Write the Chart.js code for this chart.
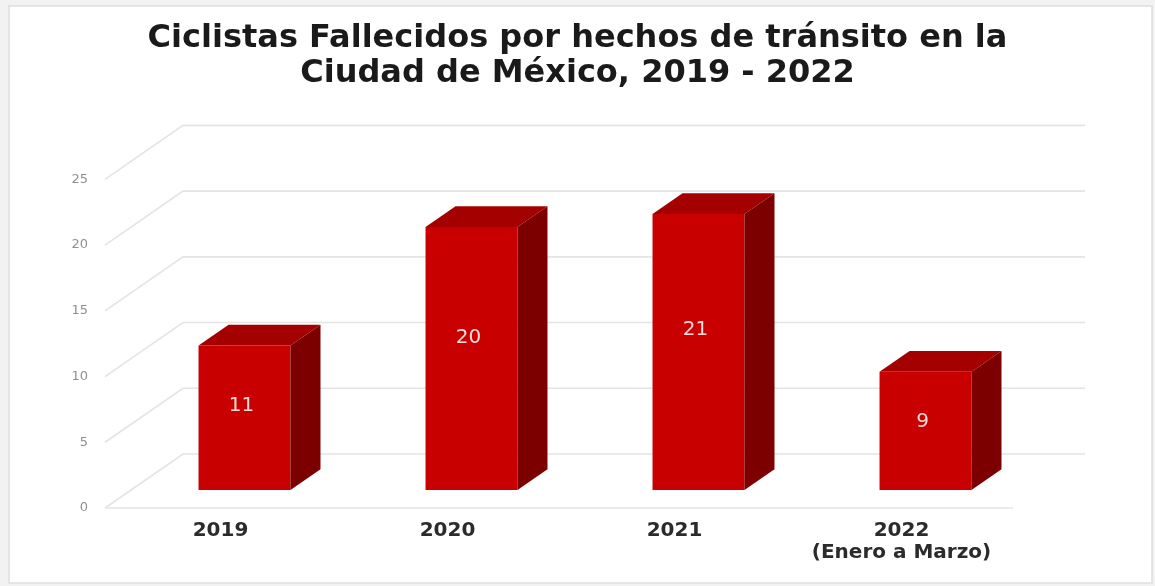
<!DOCTYPE html>
<html>
<head>
<meta charset="utf-8">
<script src="https://cdn.jsdelivr.net/npm/chart.js@4"></script>
<style>
  html, body { margin: 0; padding: 0; background: #fff; }
  canvas { display: block; }
</style>
</head>
<body>
<canvas id="deathsChart" width="1155" height="586"></canvas>
<script>
// ================= DATA =================
const years = [['2019'], ['2020'], ['2021'], ['2022', '(Enero a Marzo)']];
const deaths = [11, 20, 21, 9];
const titleLines = ['Ciclistas Fallecidos por hechos de tránsito en la', 'Ciudad de México, 2019 - 2022'];
const yTicks = [0, 5, 10, 15, 20, 25];

// 3D look: depth vector in px (bar plane -> back wall)
const DEPTH = { dx: 78, dy: -54 };
const BAR_DEPTH = 0.385;   // fraction of DEPTH for each bar box
const FRONT_T = -1 / 3;    // floor front edge, in front of the bars
const BACK_T = 2 / 3;      // back wall

// --- Frame behind the chart ---
const framePlugin = {
    id: 'frame',
    beforeDraw(chart) {
        const ctx = chart.ctx;
        ctx.save();
        ctx.fillStyle = '#f2f2f2';
        ctx.fillRect(0, 0, chart.width, chart.height);
        ctx.fillStyle = '#ffffff';
        ctx.fillRect(9, 6, chart.width - 12, chart.height - 9);
        ctx.strokeStyle = '#dedede';
        ctx.lineWidth = 1.5;
        ctx.strokeRect(9, 6, chart.width - 12, chart.height - 9);
        ctx.restore();
    }
};

// --- Gridlines drawn as floor + back wall ---
const gridPlugin = {
    id: 'grid3d',
    beforeDatasetsDraw(chart) {
        const { ctx, chartArea, scales: { y } } = chart;
        const fx = DEPTH.dx * FRONT_T, fy = DEPTH.dy * FRONT_T;
        const bx = DEPTH.dx * BACK_T, by = DEPTH.dy * BACK_T;
        ctx.save();
        ctx.strokeStyle = '#e4e4e4';
        ctx.lineWidth = 1.6;
        yTicks.forEach(v => {
            const py = y.getPixelForValue(v);
            ctx.beginPath();
            ctx.moveTo(chartArea.left + fx, py + fy);
            ctx.lineTo(chartArea.left + bx, py + by);
            ctx.lineTo(chartArea.right + bx - 6, py + by);
            ctx.stroke();
        });
        // front edge of the floor
        const p0 = y.getPixelForValue(0);
        ctx.beginPath();
        ctx.moveTo(chartArea.left + fx, p0 + fy);
        ctx.lineTo(chartArea.right + fx, p0 + fy);
        ctx.stroke();
        ctx.restore();
    }
};

// --- Top/side faces and value labels on the bars ---
const boxPlugin = {
    id: 'box3d',
    afterDatasetsDraw(chart) {
        const ctx = chart.ctx;
        const dx = DEPTH.dx * BAR_DEPTH, dy = DEPTH.dy * BAR_DEPTH;
        const meta = chart.getDatasetMeta(0);
        ctx.save();
        meta.data.forEach((bar, i) => {
            const { x, y, base, width } = bar.getProps(['x', 'y', 'base', 'width'], true);
            const l = x - width / 2, r = x + width / 2;
            // top face
            ctx.fillStyle = '#a40000';
            ctx.beginPath();
            ctx.moveTo(l, y);
            ctx.lineTo(l + dx, y + dy);
            ctx.lineTo(r + dx, y + dy);
            ctx.lineTo(r, y);
            ctx.closePath();
            ctx.fill();
            // side face
            ctx.fillStyle = '#7c0000';
            ctx.beginPath();
            ctx.moveTo(r, y);
            ctx.lineTo(r + dx, y + dy);
            ctx.lineTo(r + dx, base + dy);
            ctx.lineTo(r, base);
            ctx.closePath();
            ctx.fill();
            // value label
            ctx.fillStyle = '#f6dada';
            ctx.font = '20px "DejaVu Sans"';
            ctx.textAlign = 'center';
            ctx.textBaseline = 'middle';
            ctx.fillText(String(deaths[i]), x - 3, base - (base - y) * 0.58);
        });
        ctx.restore();
    }
};

const ctx = document.getElementById('deathsChart').getContext('2d');
const deathsChart = new Chart(ctx, {
    type: 'bar',
    data: {
        labels: years,
        datasets: [{
            data: deaths,
            backgroundColor: '#c80000',
            borderWidth: 0,
            categoryPercentage: 1,
            barPercentage: 0.405
        }]
    },
    options: {
        responsive: false,
        animation: false,
        devicePixelRatio: 1,
        layout: { padding: 0 },
        plugins: {
            legend: { display: false },
            tooltip: { enabled: false },
            title: {
                display: true,
                text: titleLines,
                color: '#1a1a1a',
                font: { family: '"DejaVu Sans"', size: 32, weight: 'bold', lineHeight: 1.1 },
                padding: { top: 21, bottom: 70 }
            }
        },
        scales: {
            x: {
                grid: { display: false, drawTicks: false },
                border: { display: false },
                ticks: {
                    color: '#2b2b2b',
                    font: { family: '"DejaVu Sans"', size: 20, weight: 'bold', lineHeight: 1.1 },
                    padding: 30,
                    labelOffset: -24,
                    maxRotation: 0
                },
                afterFit(scale) { scale.height = 96; }
            },
            y: {
                min: 0,
                max: 25,
                grid: { display: false, drawTicks: false },
                border: { display: false },
                ticks: {
                    stepSize: 5,
                    color: '#8e8e9a',
                    font: { family: '"DejaVu Sans"', size: 13 },
                    padding: 43,
                    labelOffset: 18
                },
                afterFit(scale) { scale.width = 131; }
            },
            // empty right-hand strip, keeps the title centred on the whole canvas
            spacer: {
                type: 'linear',
                position: 'right',
                grid: { display: false, drawTicks: false },
                border: { display: false },
                ticks: { display: false },
                afterFit(scale) { scale.width = 116; }
            }
        }
    },
    plugins: [framePlugin, gridPlugin, boxPlugin]
});
</script>
</body>
</html>
